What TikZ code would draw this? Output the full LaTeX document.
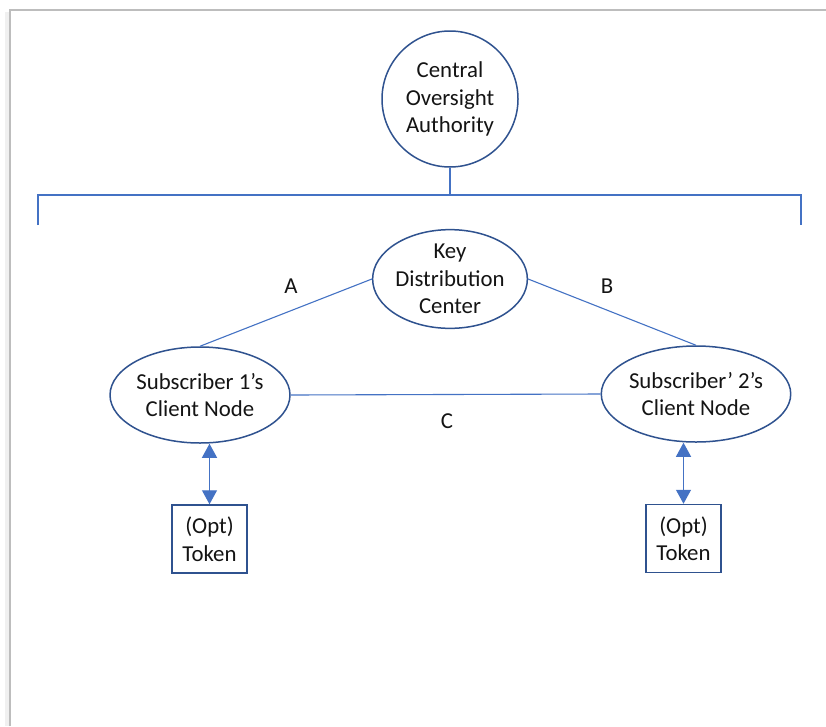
\documentclass[tikz,border=0pt]{standalone}
\usepackage{fontspec}
\setmainfont{Carlito}
\usetikzlibrary{shapes.geometric,arrows.meta}
\definecolor{lineblue}{HTML}{4472C4}
\definecolor{edgeblue}{HTML}{2F528F}
\definecolor{txt}{HTML}{141414}
\definecolor{framegray}{HTML}{BDBDBD}
\tikzset{
  lbl/.style={font=\fontsize{22.8}{27.5}\selectfont, text=txt, align=center},
  ovalnode/.style={ellipse, draw=edgeblue, line width=1.5pt, inner sep=0pt, lbl},
  tokenbox/.style={rectangle, draw=edgeblue, line width=1.5pt, minimum width=75pt, minimum height=68pt, inner sep=0pt, lbl},
  conn/.style={draw=lineblue, line width=1.1pt},
  bar/.style={draw=lineblue, line width=2pt},
  dblarrow/.style={draw=lineblue, line width=1.2pt, {Triangle[width=15pt,length=14pt]}-{Triangle[width=15pt,length=14pt]}},
}
\begin{document}
\begin{tikzpicture}[x=1pt,y=-1pt]
\useasboundingbox[fill=white] (0,0) rectangle (826,726);
% page frame
\fill[black!6] (5,12) rectangle (10,726);
\draw[framegray, line width=1.5pt] (10,726) -- (10,10) -- (826,10);

\node[circle, draw=edgeblue, line width=1.5pt, minimum size=136pt, inner sep=0pt, lbl] (coa) at (450,99) {Central\\Oversight\\Authority};

\coordinate (bj) at (450,195);
\coordinate (bl) at (38,195);
\coordinate (br) at (801,195);
\coordinate (blb) at (38,225);
\coordinate (brb) at (801,225);
\draw[bar] (coa.south) -- (bj);
\draw[bar] (blb) -- (bl) -- (br) -- (brb);

\node[ovalnode, minimum width=153pt, minimum height=92pt] (kdc) at (450,279) {Key\\Distribution\\Center};
\node[ovalnode, minimum width=176pt, minimum height=96pt] (s1) at (200,395) {Subscriber 1’s\\Client Node};
\node[ovalnode, minimum width=176pt, minimum height=96pt] (s2) at (696,394) {Subscriber’ 2’s\\Client Node};

\draw[conn] (kdc.west) -- (s1.north);
\draw[conn] (kdc.east) -- (s2.north);
\draw[conn] (s1.east) -- (s2.west);

\node[lbl] (la) at (291,286) {A};
\node[lbl] (lb) at (607,286) {B};
\node[lbl] (lc) at (447,421) {C};

\node[tokenbox] (t1) at (209.5,539) {(Opt)\\Token};
\node[tokenbox] (t2) at (683.5,538.5) {(Opt)\\Token};

\draw[dblarrow] (s1.south -| t1.north) -- (t1.north);
\draw[dblarrow] (s2.south -| t2.north) -- (t2.north);
\end{tikzpicture}
\end{document}
